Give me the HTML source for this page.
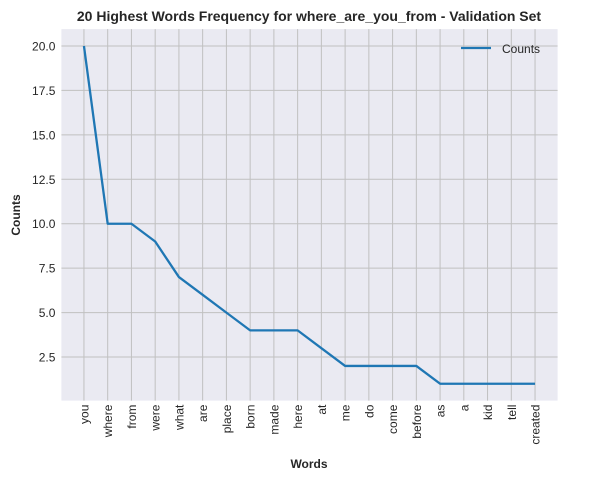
<!DOCTYPE html>
<html><head><meta charset="utf-8"><style>
body{margin:0;background:#fff;}
svg{display:block;font-family:"Liberation Sans",Arial,sans-serif;}
</style></head><body>
<svg id="c" width="595" height="480"></svg>
<script>
const words=["you","where","from","were","what","are","place","born","made","here","at","me","do","come","before","as","a","kid","tell","created"];
const counts=[20,10,10,9,7,6,5,4,4,4,3,2,2,2,2,1,1,1,1,1];
const yTicks=[2.5,5.0,7.5,10.0,12.5,15.0,17.5,20.0];
const yTickLabels=["2.5","5.0","7.5","10.0","12.5","15.0","17.5","20.0"];
const L=61.4,R=557.6,T=29.1,B=400.6;
const svg=document.getElementById('c');const NS='http://www.w3.org/2000/svg';
function el(t,a,p){const e=document.createElementNS(NS,t);for(const k in a)e.setAttribute(k,a[k]);(p||svg).appendChild(e);return e;}
const n=words.length;
const mn=Math.min(...counts),mx=Math.max(...counts),pad=(mx-mn)*0.05;
const y0=mn-pad,y1=mx+pad;
const xs=i=>L+(R-L)*(pad/(mx-mn)===0?0:0)+ (R-L)*((i+(n-1)*0.05)/((n-1)*1.1));
const ys=v=>B-(v-y0)/(y1-y0)*(B-T);
const bg=el('rect',{x:L,y:T,width:R-L,height:B-T,fill:'#eaeaf2'});

words.forEach((w,i)=>{const x=xs(i);
const g=el('line',{x1:x,x2:x,y1:T,y2:B,stroke:'#c0c0c0','stroke-width':1});

const t=el('text',{x:0,y:0,transform:`translate(${x+4.5},${B+4}) rotate(-90)`,'text-anchor':'end','font-size':12,fill:'#262626'});t.textContent=w;
});
yTicks.forEach((v,i)=>{const y=ys(v);
const g=el('line',{x1:L,x2:R,y1:y,y2:y,stroke:'#c0c0c0','stroke-width':1});

const t=el('text',{x:L-6,y:y+4.5,'text-anchor':'end','font-size':12,fill:'#262626'});t.textContent=yTickLabels[i];
});
const line=el('polyline',{points:counts.map((v,i)=>xs(i)+','+ys(v)).join(' '),fill:'none',stroke:'#1f77b4','stroke-width':2.3,'stroke-linejoin':'round'});

const ttl=el('text',{x:309,y:21,'text-anchor':'middle','font-size':14,'font-weight':'bold',fill:'#262626'});ttl.textContent='20 Highest Words Frequency for where_are_you_from - Validation Set';

const xt=el('text',{x:309,y:468,'text-anchor':'middle','font-size':12,'font-weight':'bold',fill:'#262626'});xt.textContent='Words';

const yt=el('text',{x:0,y:0,transform:'translate(20,215) rotate(-90)','text-anchor':'middle','font-size':12,'font-weight':'bold',fill:'#262626'});yt.textContent='Counts';

const lg=el('g',{});
el('line',{x1:461,x2:491,y1:48,y2:48,stroke:'#1f77b4','stroke-width':2.3},lg);
const lt=el('text',{x:502,y:53,'font-size':12,fill:'#262626'},lg);lt.textContent='Counts';
</script>
</body></html>
